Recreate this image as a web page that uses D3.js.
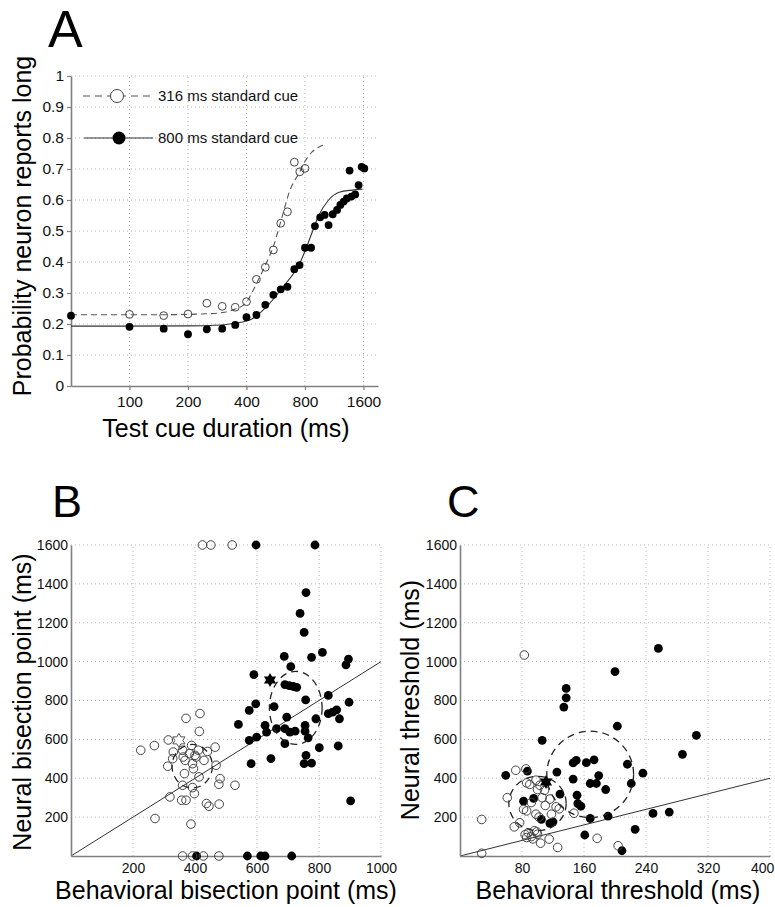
<!DOCTYPE html>
<html><head><meta charset="utf-8">
<script src="https://cdn.jsdelivr.net/npm/d3@7"></script>
<style>
body{margin:0;background:#fff;}
svg{display:block;font-family:"Liberation Sans",Arial,Helvetica,sans-serif;}
</style>
</head><body>
<svg id="chart" width="775" height="907"></svg>
<script>
// ---------------- Panel A data ----------------
const aXTicks = [100, 200, 400, 800, 1600];
const aYTicks = [0, 0.1, 0.2, 0.3, 0.4, 0.5, 0.6, 0.7, 0.8, 0.9, 1];
const legendLabels = ["316 ms standard cue", "800 ms standard cue"];

const shortX = [100,150,200,250,300,350,400,450,500,550,600,650,705,752,800];
const shortY = [0.231,0.227,0.232,0.267,0.257,0.254,0.272,0.344,0.383,0.439,0.525,0.562,0.722,0.691,0.702];

const longX = [50,100,150,200,250,300,350,400,450,500,550,600,650,705,750,800,860,900,958,1010,1058,1111,1170,1216,1265,1313,1357,1385,1450,1510,1565,1615];
const longY = [0.227,0.191,0.185,0.167,0.183,0.185,0.197,0.222,0.229,0.262,0.294,0.312,0.320,0.377,0.390,0.446,0.446,0.516,0.544,0.552,0.519,0.554,0.568,0.584,0.595,0.605,0.695,0.611,0.618,0.648,0.707,0.702];

const shortFitX = [50,150,250,300,350,400,416,450,500,550,600,670,750,800,870,950,995];
const shortFitY = [0.23,0.23,0.233,0.237,0.248,0.27,0.288,0.33,0.39,0.45,0.53,0.632,0.69,0.725,0.755,0.772,0.777];

const longFitX = [50,200,300,342,416,508,617,752,880,935,1058,1200,1400,1580];
const longFitY = [0.193,0.194,0.197,0.202,0.213,0.256,0.32,0.396,0.503,0.546,0.60,0.625,0.632,0.635];

// ---------------- Panel B data ----------------
const bXTicks = [200, 400, 600, 800, 1000];
const bYTicks = [200, 400, 600, 800, 1000, 1200, 1400, 1600];

const bOpenX = [225,269,314,330,328,312,360,368,389,400,392,429,440,465,468,366,395,413,360,392,398,481,477,529,319,357,371,437,445,478,271,387,371,416,414,382,411,403,362,424,451,520,360,392,427,477];
const bOpenY = [544,568,597,535,501,462,544,492,569,518,475,492,538,560,467,424,449,407,364,352,321,398,369,364,304,287,287,270,256,267,193,164,708,733,641,527,544,509,509,1600,1600,1600,0,0,0,0];

const bFillX = [758,739,752,688,709,590,690,704,717,728,596,575,655,540,696,626,631,663,690,706,723,575,599,690,645,581,776,811,895,887,757,830,897,790,830,844,857,866,755,755,765,801,862,758,752,776,902,597,787,405,569,612,626,712];
const bFillY = [1355,1248,1150,1027,974,933,882,877,872,868,783,749,769,677,714,672,637,655,655,637,642,595,612,578,501,475,1022,1048,1013,983,803,826,791,706,732,740,752,706,672,642,608,557,566,518,475,478,284,1600,1600,0,0,0,0,0];

const bStarOpen = [348, 595];
const bStarFill = [642, 906];
const bEllOpen = [391, 462, 65, 112];   // cx, cy, rx, ry (data units)
const bEllFill = [725, 762, 85, 188];

// ---------------- Panel C data ----------------
const cXTicks = [80, 160, 240, 320, 400];
const cYTicks = [200, 400, 600, 800, 1000, 1200, 1400, 1600];

const cOpenX = [28,28,83,72,85,86,90,98,103,100,109,61,86,98,102,116,124,128,70,77,84,88,92,96,100,86,94,99,104,115,126,147,177,204,110,118,92,106,82];
const cOpenY = [188,14,1034,441,448,376,368,390,364,342,338,300,232,215,200,293,253,243,150,171,110,120,100,130,112,95,88,124,66,87,44,220,91,53,260,215,275,300,240];

const cFillX = [137,137,134,106,59,87,125,129,146,150,146,163,173,179,168,176,188,82,95,151,152,156,105,120,116,168,161,191,256,200,203,305,287,236,216,221,249,270,226,209];
const cFillY = [862,814,766,595,415,437,432,318,396,492,479,480,495,414,373,373,342,282,296,313,270,256,188,176,168,193,108,205,1068,949,668,621,523,426,472,373,219,226,137,27];

const cStarFill = [111, 381];
const cEllOpen = [100, 270, 37, 140];
const cEllFill = [168, 420, 56, 222];

// ---------------- drawing ----------------
const svg = d3.select("#chart");
const axisColor = "#808080";
const gridColor = "#b8b8b8";

const hexagram = {
  draw(ctx, size) {
    const R = Math.sqrt(size);
    const r = R / Math.sqrt(3);
    for (let k = 0; k < 12; k++) {
      const a = -Math.PI / 2 + k * Math.PI / 6;
      const rr = k % 2 === 0 ? R : r;
      const px = rr * Math.cos(a), py = rr * Math.sin(a);
      if (k === 0) ctx.moveTo(px, py); else ctx.lineTo(px, py);
    }
    ctx.closePath();
  }
};

function drawGrid(g, x, y, xt, yt) {
  const [x0, x1] = x.range();
  const [y0, y1] = y.range();
  g.append("g").selectAll("line").data(yt.filter(v => v !== 0)).join("line")
    .attr("x1", x0).attr("x2", x1).attr("y1", d => y(d)).attr("y2", d => y(d))
    .attr("stroke", gridColor).attr("stroke-width", 1).attr("stroke-dasharray", "1,3");
  g.append("g").selectAll("line").data(xt).join("line")
    .attr("x1", d => x(d)).attr("x2", d => x(d)).attr("y1", y0).attr("y2", y1)
    .attr("stroke", gridColor).attr("stroke-width", 1).attr("stroke-dasharray", "1,3");
}

function styleAxis(sel, fs) {
  sel.select(".domain").attr("stroke", axisColor).attr("stroke-width", 1.6);
  sel.selectAll(".tick line").attr("stroke", axisColor).attr("stroke-width", 1.2);
  sel.selectAll(".tick text").attr("fill", "#111").style("font-size", fs + "px")
    .style("font-family", '"Liberation Sans",Arial,Helvetica,sans-serif');
}

function title(txt, x, y, size, rot) {
  const t = svg.append("text").text(txt).attr("text-anchor", "middle")
    .style("font-size", size + "px").attr("fill", "#000");
  if (rot) t.attr("transform", `translate(${x},${y}) rotate(-90)`).attr("dy", "0.35em");
  else t.attr("x", x).attr("y", y);
  return t;
}

// ---------- Panel A ----------
{
  const x = d3.scaleLog().base(2).domain([50, 1900]).range([71, 378]);
  const y = d3.scaleLinear().domain([0, 1]).range([386, 76]);
  const g = svg.append("g");
  drawGrid(g, x, y, aXTicks, aYTicks);

  const gy = g.append("g").attr("transform", "translate(71,0)")
    .call(d3.axisLeft(y).tickValues(aYTicks).tickSize(4).tickSizeOuter(0).tickPadding(3)
      .tickFormat(d => d === 0 ? "0" : d === 1 ? "1" : d3.format(".1f")(d)));
  styleAxis(gy, 15.5);
  const gx = g.append("g").attr("transform", "translate(0,386)")
    .call(d3.axisBottom(x).tickValues(aXTicks).tickSize(4).tickSizeOuter(0).tickPadding(6)
      .tickFormat(d3.format("d")));
  styleAxis(gx, 15.5);

  const line = d3.line().x(d => x(d[0])).y(d => y(d[1])).curve(d3.curveMonotoneX);
  g.append("path").datum(d3.zip(shortFitX, shortFitY)).attr("d", line)
    .attr("fill", "none").attr("stroke", "#555").attr("stroke-width", 1.1).attr("stroke-dasharray", "6,4");
  g.append("path").datum(d3.zip(longFitX, longFitY)).attr("d", line)
    .attr("fill", "none").attr("stroke", "#333").attr("stroke-width", 1.1);

  g.append("g").selectAll("circle").data(d3.zip(shortX, shortY)).join("circle")
    .attr("cx", d => x(d[0])).attr("cy", d => y(d[1])).attr("r", 3.9)
    .attr("fill", "none").attr("stroke", "#444").attr("stroke-width", 1);
  g.append("g").selectAll("circle").data(d3.zip(longX, longY)).join("circle")
    .attr("cx", d => x(d[0])).attr("cy", d => y(d[1])).attr("r", 3.9)
    .attr("fill", "#000");

  // legend
  const lg = g.append("g");
  const rows = [96, 138];
  lg.append("line").attr("x1", 83).attr("x2", 153).attr("y1", rows[0]).attr("y2", rows[0])
    .attr("stroke", "#555").attr("stroke-width", 1.1).attr("stroke-dasharray", "7,5");
  lg.append("circle").attr("cx", 117).attr("cy", rows[0]).attr("r", 6.5)
    .attr("fill", "#fff").attr("stroke", "#444").attr("stroke-width", 1);
  lg.append("line").attr("x1", 84).attr("x2", 153).attr("y1", rows[1]).attr("y2", rows[1])
    .attr("stroke", "#333").attr("stroke-width", 1.1);
  lg.append("circle").attr("cx", 119).attr("cy", rows[1]).attr("r", 6.5).attr("fill", "#000");
  lg.selectAll("text").data(legendLabels).join("text")
    .attr("x", 158).attr("y", (d, i) => rows[i] + 5).text(d => d)
    .style("font-size", "15px").attr("fill", "#111");

  svg.append("text").text("A").attr("x", 48).attr("y", 47).style("font-size", "52px");
  title("Probability neuron reports long", 22, 226, 25, true);
  title("Test cue duration (ms)", 226, 437, 25, false);
}

// ---------- scatter panel helper ----------
function scatterPanel(o) {
  const x = d3.scaleLinear().domain(o.xd).range(o.xr);
  const y = d3.scaleLinear().domain([0, 1600]).range([856, 545]);
  const g = svg.append("g");
  drawGrid(g, x, y, o.xt, o.yt);

  // identity line
  const dmax = o.xd[1];
  g.append("line").attr("x1", x(0)).attr("y1", y(0)).attr("x2", x(dmax)).attr("y2", y(dmax))
    .attr("stroke", "#333").attr("stroke-width", 1);

  const gy = g.append("g").attr("transform", `translate(${o.xr[0]},0)`)
    .call(d3.axisLeft(y).tickValues(o.yt).tickSize(0).tickSizeOuter(0).tickPadding(3)
      .tickFormat(d3.format("d")));
  styleAxis(gy, 14);
  const gx = g.append("g").attr("transform", "translate(0,856)")
    .call(d3.axisBottom(x).tickValues(o.xt).tickSize(0).tickSizeOuter(0).tickPadding(7)
      .tickFormat(d3.format("d")));
  styleAxis(gx, 14);
  // keep the last label inside the page edge
  const W = +svg.attr("width");
  gx.selectAll(".tick text").each(function () {
    const bb = this.getBBox();
    const tx = x(d3.select(this.parentNode).datum());
    if (tx + bb.width / 2 > W - 1) d3.select(this).attr("dx", (W - 1) - (tx + bb.width / 2));
  });

  g.append("g").selectAll("circle").data(d3.zip(o.fx, o.fy)).join("circle")
    .attr("cx", d => x(d[0])).attr("cy", d => y(d[1])).attr("r", 4.4).attr("fill", "#000");
  g.append("g").selectAll("circle").data(d3.zip(o.ox, o.oy)).join("circle")
    .attr("cx", d => x(d[0])).attr("cy", d => y(d[1])).attr("r", 4.3)
    .attr("fill", "none").attr("stroke", "#444").attr("stroke-width", 1);

  o.ells.forEach(e => {
    g.append("ellipse").attr("cx", x(e[0])).attr("cy", y(e[1]))
      .attr("rx", x(e[0] + e[2]) - x(e[0])).attr("ry", y(e[1]) - y(e[1] + e[3]))
      .attr("fill", "none").attr("stroke", "#222").attr("stroke-width", 1.3)
      .attr("stroke-dasharray", "7,5");
  });
  const sym = d3.symbol().type(hexagram).size(49);
  if (o.starOpen) g.append("path").attr("d", sym)
    .attr("transform", `translate(${x(o.starOpen[0])},${y(o.starOpen[1])})`)
    .attr("fill", "#fff").attr("stroke", "#555").attr("stroke-width", 1);
  if (o.starFill) g.append("path").attr("d", sym)
    .attr("transform", `translate(${x(o.starFill[0])},${y(o.starFill[1])})`)
    .attr("fill", "#000");
}

scatterPanel({xd: [0, 1000], xr: [71, 381], xt: bXTicks, yt: bYTicks,
  ox: bOpenX, oy: bOpenY, fx: bFillX, fy: bFillY,
  ells: [bEllOpen, bEllFill], starOpen: bStarOpen, starFill: bStarFill});
svg.append("text").text("B").attr("x", 52).attr("y", 517).style("font-size", "45px");
title("Neural bisection point (ms)", 22, 702, 25, true);
title("Behavioral bisection point (ms)", 226, 899, 25, false);

scatterPanel({xd: [0, 400], xr: [460, 770], xt: cXTicks, yt: cYTicks,
  ox: cOpenX, oy: cOpenY, fx: cFillX, fy: cFillY,
  ells: [cEllOpen, cEllFill], starOpen: null, starFill: cStarFill});
svg.append("text").text("C").attr("x", 447).attr("y", 517).style("font-size", "45px");
title("Neural threshold (ms)", 410, 700, 25, true);
title("Behavioral threshold (ms)", 618, 899, 25, false);
</script>
</body></html>
